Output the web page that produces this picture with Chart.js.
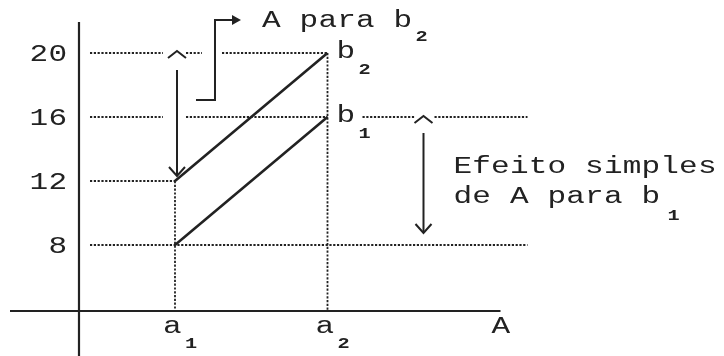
<!DOCTYPE html>
<html><head><meta charset="utf-8">
<script src="https://cdn.jsdelivr.net/npm/chart.js@4.4.1/dist/chart.umd.min.js"></script>
<style>html,body{margin:0;padding:0;background:#fff;overflow:hidden}canvas{display:block}</style>
</head><body>
<canvas id="c" width="724" height="356"></canvas>
<script>
// ---- data ----
const categories = ['a', 'a'];
const categorySubs = ['1', '2'];
const categoryX = [1, 2];
const seriesNames = ['b', 'b'];
const seriesSubs = ['1', '2'];
const b1Values = [8, 16];
const b2Values = [12, 20];
const yTicks = [8, 12, 16, 20];
const xAxisTitle = 'A';
const calloutText = 'A para b';
const calloutSub = '2';
const effectLines = ['Efeito simples', 'de A para b'];
const effectSub = '1';

const INK = '#222';
const MAIN = {size: 23, sx: 1.35, pitch: 18.8, bold: false, stroke: 0};
const SUB = {size: 15, sx: 1.35, pitch: 10, bold: true, stroke: 0};

function mono(ctx, text, x, base, o) {
  ctx.save();
  ctx.font = (o.bold ? 'bold ' : '') + o.size + 'px "Liberation Mono", "DejaVu Sans Mono", monospace';
  ctx.fillStyle = INK; ctx.strokeStyle = INK; ctx.lineWidth = o.stroke;
  ctx.textBaseline = 'alphabetic'; ctx.textAlign = 'left';
  for (let i = 0; i < text.length; i++) {
    const ch = text[i]; if (ch === ' ') continue;
    ctx.save(); ctx.translate(x + i * o.pitch, base); ctx.scale(o.sx, 1);
    ctx.fillText(ch, 0, 0); if (o.stroke) ctx.strokeText(ch, 0, 0); ctx.restore();
  }
  ctx.restore();
}
function line(ctx, pts, w) {
  ctx.save(); ctx.strokeStyle = INK; ctx.lineWidth = w || 2; ctx.lineCap = 'butt'; ctx.lineJoin = 'miter';
  ctx.beginPath(); ctx.moveTo(pts[0][0], pts[0][1]);
  for (let i = 1; i < pts.length; i++) ctx.lineTo(pts[i][0], pts[i][1]);
  ctx.stroke(); ctx.restore();
}
function dotted(ctx, x0, y0, x1, y1) {
  ctx.save(); ctx.strokeStyle = '#222'; ctx.lineWidth = 1.8; ctx.setLineDash([2.2, 1.6]);
  ctx.beginPath(); ctx.moveTo(x0, y0); ctx.lineTo(x1, y1); ctx.stroke(); ctx.restore();
}

const decor = {
  id: 'decor',
  beforeDatasetsDraw(chart) {
    const ctx = chart.ctx, xs = chart.scales.x, ys = chart.scales.y;
    const X = v => xs.getPixelForValue(v), Y = v => ys.getPixelForValue(v);
    const X1 = X(categoryX[0]), X2 = X(categoryX[1]);
    const start = X1 - 85;
    const y20 = Y(b2Values[1]), y16 = Y(b1Values[1]), y12 = Y(b2Values[0]), y8 = Y(b1Values[0]);
    [[start, X1 - 12], [X1 + 11, X1 + 27], [X1 + 47, X2]].forEach(s => dotted(ctx, s[0], y20, s[1], y20));
    [[start, X1 - 12], [X1 + 11, X2], [X2 + 35, X2 + 87], [X2 + 107, X2 + 200]].forEach(s => dotted(ctx, s[0], y16, s[1], y16));
    dotted(ctx, start, y12, X1, y12);
    dotted(ctx, start, y8, X2 + 200, y8);
    const axY = Y(b1Values[0]) + 66, axX = X1 - 96;
    dotted(ctx, X1, y12, X1, axY);
    dotted(ctx, X2, y20, X2, axY);
    line(ctx, [[axX, 22], [axX, chart.height]], 2.2);
    line(ctx, [[10, axY], [X2 + 173, axY]], 2.2);
  },
  afterDatasetsDraw(chart) {
    const ctx = chart.ctx, xs = chart.scales.x, ys = chart.scales.y;
    const X = v => xs.getPixelForValue(v), Y = v => ys.getPixelForValue(v);
    const X1 = X(categoryX[0]), X2 = X(categoryX[1]);
    const axY = Y(b1Values[0]) + 66, axX = X1 - 96;
    yTicks.forEach(t => {
      const s = String(t);
      const w = (s.length - 1) * MAIN.pitch + 18.6;
      mono(ctx, s, axX - 12 - w, Y(t) + 7.5, MAIN);
    });
    categories.forEach((c, i) => {
      const px = X(categoryX[i]);
      mono(ctx, c, px - 12, axY + 22, MAIN);
      mono(ctx, categorySubs[i], px + 10, axY + 37, SUB);
    });
    mono(ctx, xAxisTitle, X2 + 164, axY + 22, MAIN);
    [b1Values, b2Values].forEach((vals, i) => {
      const py = Y(vals[1]);
      mono(ctx, seriesNames[i], X2 + 9, py + 5, MAIN);
      mono(ctx, seriesSubs[i], X2 + 31, py + 21, SUB);
    });
    // left effect arrow (A for b2)
    const ax1 = X1 + 2, y20 = Y(b2Values[1]), y12 = Y(b2Values[0]);
    line(ctx, [[ax1 - 9, y20 + 5], [ax1, y20 - 2], [ax1 + 9, y20 + 5]], 2);
    line(ctx, [[ax1, y20 + 17], [ax1, y12 - 5]], 2);
    line(ctx, [[ax1 - 8, y12 - 14], [ax1, y12 - 5], [ax1 + 8, y12 - 14]], 2);
    // right effect arrow (A for b1)
    const ax2 = X2 + 96, y16 = Y(b1Values[1]), y8 = Y(b1Values[0]);
    line(ctx, [[ax2 - 9, y16 + 6], [ax2, y16 - 1], [ax2 + 9, y16 + 6]], 2);
    line(ctx, [[ax2, y16 + 16], [ax2, y8 - 12]], 2);
    line(ctx, [[ax2 - 8, y8 - 21], [ax2, y8 - 12], [ax2 + 8, y8 - 21]], 2);
    // callout arrow
    const cx = X1 + 40, cyB = y20 + 47, cyT = y20 - 33;
    line(ctx, [[X1 + 21, cyB], [cx, cyB], [cx, cyT], [cx + 20, cyT]], 2);
    ctx.save(); ctx.fillStyle = INK; ctx.beginPath();
    ctx.moveTo(cx + 26, cyT); ctx.lineTo(cx + 17, cyT - 5); ctx.lineTo(cx + 17, cyT + 5); ctx.closePath(); ctx.fill(); ctx.restore();
    mono(ctx, calloutText, cx + 47, cyT + 7, MAIN);
    mono(ctx, calloutSub, cx + 47 + 7 * MAIN.pitch + 22, cyT + 21, SUB);
    // effect text
    const tx = ax2 + 30;
    mono(ctx, effectLines[0], tx, Y(12.5), MAIN);
    mono(ctx, effectLines[1], tx, Y(10.6), MAIN);
    mono(ctx, effectSub, tx + (effectLines[1].length - 1) * MAIN.pitch + 26, Y(10.6) + 17, SUB);
  }
};

new Chart(document.getElementById('c'), {
  type: 'scatter',
  data: {
    datasets: [
      {label: 'b1', data: categoryX.map((x, i) => ({x, y: b1Values[i]})), showLine: true,
       borderColor: INK, borderWidth: 2.6, pointRadius: 0, fill: false},
      {label: 'b2', data: categoryX.map((x, i) => ({x, y: b2Values[i]})), showLine: true,
       borderColor: INK, borderWidth: 2.6, pointRadius: 0, fill: false}
    ]
  },
  options: {
    responsive: false, animation: false, devicePixelRatio: 1,
    layout: {padding: 0},
    plugins: {legend: {display: false}, tooltip: {enabled: false}},
    scales: {
      x: {type: 'linear', min: -0.1475, max: 4.6, display: false},
      y: {type: 'linear', min: 1.0625, max: 23.3125, display: false}
    }
  },
  plugins: [decor]
});
</script>
</body></html>
